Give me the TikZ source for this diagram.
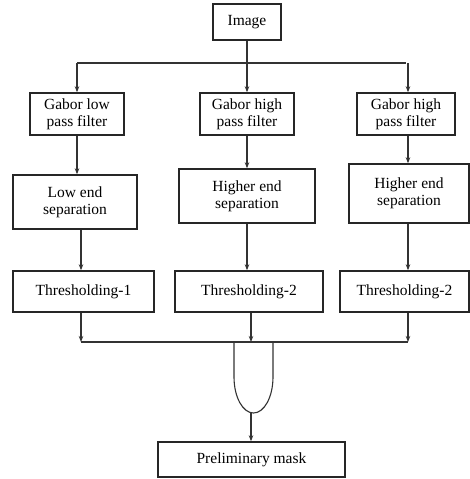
\documentclass[tikz,border=0pt]{standalone}
\usepackage{fontspec}
\setmainfont{Liberation Serif}
\usetikzlibrary{arrows.meta}

\begin{document}
\begin{tikzpicture}[x=1pt, y=-1pt, >={Stealth[length=6pt, width=4.5pt]},
    box/.style={draw=black!85, line width=1.4pt, inner sep=0pt, align=center,
                font=\fontsize{15.5}{17}\selectfont},
    link/.style={draw=black!80, line width=1.1pt}]
    \useasboundingbox (0,0) rectangle (470,479);

    % Input image
    \node[box, minimum width=68pt, minimum height=36pt] (img) at (247,22) {Image};

    % Gabor filters
    \node[box, minimum width=94pt, minimum height=42pt] (g1) at (77,114) {Gabor low\\pass filter};
    \node[box, minimum width=94pt, minimum height=42pt] (g2) at (247,114) {Gabor high\\pass filter};
    \node[box, minimum width=98pt, minimum height=42pt] (g3) at (406,114) {Gabor high\\pass filter};

    % Separation
    \node[box, minimum width=124pt, minimum height=54pt] (s1) at (75,202) {Low end\\separation};
    \node[box, minimum width=136pt, minimum height=54pt] (s2) at (247,196) {Higher end\\separation};
    \node[box, minimum width=120pt, minimum height=59pt] (s3) at (409,193.5) {Higher end\\separation};

    % Thresholding
    \node[box, minimum width=141pt, minimum height=41pt] (t1) at (83.5,291.5) {Thresholding-1};
    \node[box, minimum width=148pt, minimum height=41pt] (t2) at (249,291.5) {Thresholding-2};
    \node[box, minimum width=129pt, minimum height=41pt] (t3) at (404.5,291.5) {\raisebox{2pt}{Thresholding-2}};

    % Output
    \node[box, minimum width=187pt, minimum height=35pt] (mask) at (251.5,459.5) {Preliminary mask};

    % Split from the image
    \coordinate (split) at (247,63);
    \draw[link] (img) -- (split);
    \draw[link] (split -| g1) -- (split -| g3);
    \draw[link, ->] (split -| g1) -- (g1);
    \draw[link, ->] (split) -- (g2);
    \draw[link, ->] (split -| 408,0) -- (g3.north -| 408,0);

    % Down each branch
    \draw[link, ->] (g1) -- (g1 |- s1.north);
    \draw[link, ->] (g2) -- (s2);
    \draw[link, ->] (g3.south -| 408,0) -- (s3.north -| 408,0);
    \draw[link, ->] (s1.south -| 81,0) -- (t1.north -| 81,0);
    \draw[link, ->] (s2) -- (s2 |- t2.north);
    \draw[link, ->] (s3.south -| 408,0) -- (t3.north -| 408,0);

    % Join bar
    \coordinate (join) at (251,342);
    \draw[link, ->] (t1.south -| 81,0) -- (join -| 81,0);
    \draw[link, ->] (t2.south -| join) -- (join);
    \draw[link, ->] (t3.south -| 408,0) -- (join -| 408,0);
    \draw[link] (join -| 81,0) -- (join -| 408,0);

    % AND gate
    \draw[link] (234,342) -- (234,377) arc[start angle=180, end angle=0, x radius=19.5, y radius=36] -- (273,342);
    \coordinate (gate) at (251,413);
    \draw[link, ->] (gate) -- (gate |- mask.north);
\end{tikzpicture}
\end{document}
